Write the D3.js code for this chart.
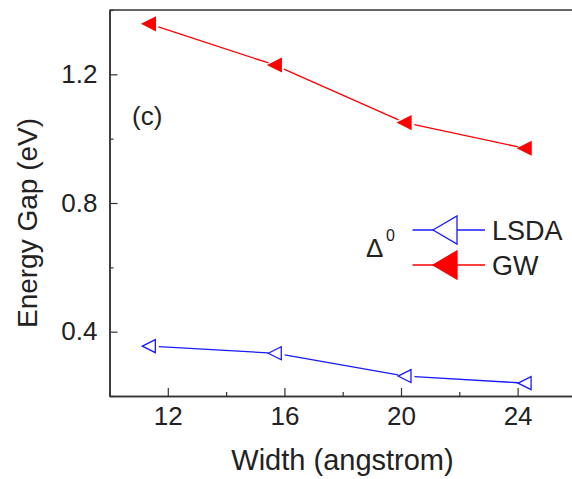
<!DOCTYPE html>
<html>
<head>
<meta charset="utf-8">
<script src="https://cdn.jsdelivr.net/npm/d3@7"></script>
<style>
  html, body { margin: 0; padding: 0; background: #fff; }
  svg { display: block; font-family: "Liberation Sans", Arial, sans-serif; }
</style>
</head>
<body>
<svg id="chart" width="572" height="479"></svg>
<script>
// Ribbon widths (angstrom) and energy gaps (eV)
const widths = [11.35, 15.67, 20.12, 24.24];
const gapLSDA = [0.355, 0.333, 0.262, 0.240];
const gapGW = [1.357, 1.229, 1.050, 0.970];

const xMajorTicks = [12, 16, 20, 24];
const xMinorTicks = [10, 14, 18, 22, 26];
const yMajorTicks = [0.4, 0.8, 1.2];
const yMinorTicks = [0.2, 0.6, 1.0, 1.4];

const seriesNames = ["LSDA", "GW"];

const svg = d3.select("#chart");
const margin = { left: 109.5, top: 10, bottom: 396 };
const x = d3.scaleLinear().domain([10, 26]).range([margin.left, margin.left + 16 * 29.15]);
const y = d3.scaleLinear().domain([0.2, 1.4]).range([margin.bottom, margin.top]);

const axisColor = "#333";

// Bottom axis: major ticks with labels, inward
svg.append("g").attr("transform", `translate(0,${margin.bottom})`)
  .call(d3.axisBottom(x).tickValues(xMajorTicks).tickSize(-8).tickSizeOuter(0).tickPadding(11).tickFormat(d3.format("d")));
svg.append("g").attr("transform", `translate(0,${margin.bottom})`)
  .call(d3.axisBottom(x).tickValues(xMinorTicks).tickSize(-4).tickSizeOuter(0).tickFormat(""));

// Left axis
svg.append("g").attr("transform", `translate(${margin.left},0)`)
  .call(d3.axisLeft(y).tickValues(yMajorTicks).tickSize(-8).tickSizeOuter(0).tickPadding(12).tickFormat(d3.format(".1f")));
svg.append("g").attr("transform", `translate(${margin.left},0)`)
  .call(d3.axisLeft(y).tickValues(yMinorTicks).tickSize(-4).tickSizeOuter(0).tickFormat(""));

// Top frame line
svg.append("line")
  .attr("x1", x(10)).attr("x2", x(26))
  .attr("y1", y(1.4)).attr("y2", y(1.4))
  .attr("stroke", axisColor).attr("stroke-width", 1.5);

svg.selectAll(".domain").attr("stroke", axisColor).attr("stroke-width", 1.5);
svg.selectAll(".tick line").attr("stroke", axisColor).attr("stroke-width", 1.2);
svg.selectAll(".tick text").attr("fill", "#222").attr("font-size", 26)
  .attr("font-family", "'Liberation Sans', Arial, sans-serif");

// Axis titles
svg.append("text")
  .attr("x", 342.5).attr("y", 470)
  .attr("text-anchor", "middle").attr("font-size", 29).attr("fill", "#222")
  .text("Width (angstrom)");
svg.append("text")
  .attr("transform", "translate(37,223) rotate(-90)")
  .attr("text-anchor", "middle").attr("font-size", 28).attr("fill", "#222")
  .text("Energy Gap (eV)");

// Panel label
svg.append("text")
  .attr("x", 132).attr("y", 125)
  .attr("font-size", 26).attr("fill", "#222")
  .text("(c)");

// Left-pointing triangle centered on (0,0)
function triPath(w, h) {
  return `M${-w / 2},0 L${w / 2},${-h / 2} L${w / 2},${h / 2} Z`;
}

const series = [
  { name: seriesNames[0], values: gapLSDA, color: "#1a1aff", filled: false },
  { name: seriesNames[1], values: gapGW, color: "#ff0000", filled: true }
];

const mw = 13, mh = 13;

series.forEach(s => {
  const pts = widths.map((w, i) => [x(w), y(s.values[i])]);
  const g = svg.append("g");
  // Connecting segments, trimmed so they stop short of the markers
  for (let i = 0; i < pts.length - 1; i++) {
    const [x0, y0] = pts[i], [x1, y1] = pts[i + 1];
    const len = Math.hypot(x1 - x0, y1 - y0);
    const ux = (x1 - x0) / len, uy = (y1 - y0) / len;
    const a = mw / 2 + 3.5, b = mw / 2;
    g.append("line")
      .attr("x1", x0 + ux * a).attr("y1", y0 + uy * a)
      .attr("x2", x1 - ux * b).attr("y2", y1 - uy * b)
      .attr("stroke", s.color).attr("stroke-width", 1.3);
  }
  g.selectAll("path.m").data(pts).join("path")
    .attr("class", "m")
    .attr("transform", d => `translate(${d[0]},${d[1]})`)
    .attr("d", triPath(mw, mh))
    .attr("fill", s.filled ? s.color : "#fff")
    .attr("stroke", s.color).attr("stroke-width", 1.3);
});

// Legend
const legend = svg.append("g");
legend.append("text")
  .attr("x", 366).attr("y", 257)
  .attr("font-size", 26).attr("fill", "#222")
  .text("\u0394");
legend.append("text")
  .attr("x", 386).attr("y", 240.5)
  .attr("font-size", 16).attr("fill", "#222")
  .text("0");

series.forEach((s, i) => {
  const ly = 230 + i * 35;
  legend.append("line")
    .attr("x1", 412.5).attr("x2", 485).attr("y1", ly).attr("y2", ly)
    .attr("stroke", s.color).attr("stroke-width", 1.3);
  legend.append("path")
    .attr("transform", `translate(445,${ly})`)
    .attr("d", triPath(24, 28))
    .attr("fill", s.filled ? s.color : "#fff")
    .attr("stroke", s.color).attr("stroke-width", 1.3);
  legend.append("text")
    .attr("x", 492).attr("y", ly + 10)
    .attr("font-size", 27).attr("fill", "#222")
    .text(s.name);
});
</script>
</body>
</html>
